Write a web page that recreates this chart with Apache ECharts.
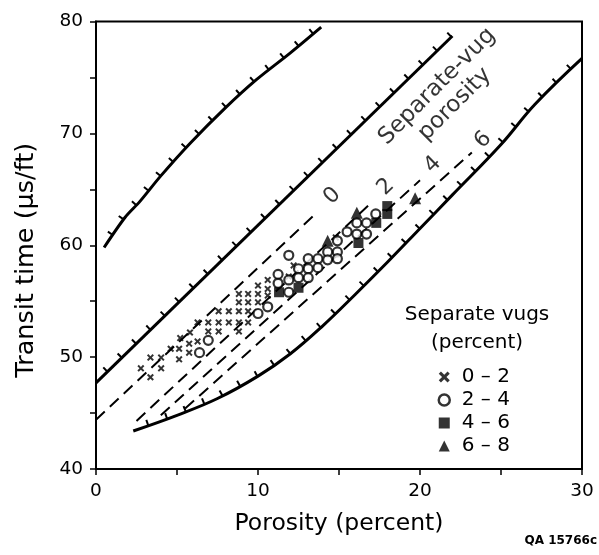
<!DOCTYPE html>
<html><head><meta charset="utf-8">
<script src="https://cdn.jsdelivr.net/npm/echarts@6/dist/echarts.min.js"></script>
<style>html,body{margin:0;padding:0;background:#fff}#c{width:599px;height:555px}</style>
</head><body><div id="c"></div>
<script>
// ---- data ----
const xTickLabels = [0, 10, 20, 30];
const yTickLabels = [40, 50, 60, 70, 80];
const upperBound = [[0.5,59.8],[1.8,62.5],[2.7,63.9],[4.0,66.2],[5.8,69.1],[8.0,72.3],[9.9,74.8],[12.0,77.2],[13.9,79.5]];
const middleBound = [[0,47.7],[22.0,78.7]];
const lowerBound = [[2.3,43.4],[5.0,44.8],[7.5,46.3],[10.0,48.3],[12.0,50.3],[14.0,52.8],[16.0,55.6],[18.0,58.5],[20.0,61.5],[22.0,64.5],[25.0,69.0],[27.1,72.6],[30.0,76.7]];
const vug0 = [[0,44.4],[13.4,62.6]];
const vug2 = [[2.5,44.3],[17.0,63.8]];
const vug4 = [[4.0,44.8],[20.0,65.8]];
const vug6 = [[5.5,45.4],[23.2,68.3]];
const vugLabels = [[14.6,64.4,'0'],[17.9,65.2,'2'],[20.8,67.2,'4'],[23.9,69.4,'6']];
const sepVugLabel = [[21.6,73.4,'Separate-vug\nporosity']];
const vugs0to2 = [[2.77,49.0],[3.36,49.96],[3.36,48.2],[4.02,49.96],[4.02,49.0],[4.61,50.75],[5.13,49.8],[5.13,50.75],[5.2,51.7],[5.8,52.2],[5.75,51.2],[5.75,50.4],[6.27,53.1],[6.27,51.4],[6.93,53.1],[6.93,52.3],[7.57,54.1],[7.57,53.1],[7.57,52.3],[8.2,54.1],[8.2,53.1],[8.82,55.65],[8.82,54.9],[8.82,54.1],[8.82,53.1],[8.82,52.3],[9.39,55.65],[9.39,54.9],[9.39,54.1],[9.39,53.1],[10.0,56.4],[10.0,55.65],[10.0,54.9],[10.6,56.9],[10.6,56.1],[10.6,55.5],[11.9,57.2],[12.2,58.2],[14.8,60.7]];
const vugs2to4 = [[6.39,50.4],[6.93,51.5],[10.0,53.9],[10.6,54.5],[11.24,57.4],[11.24,56.6],[11.9,59.1],[11.9,56.9],[11.9,55.8],[12.5,57.9],[12.5,57.1],[13.1,58.8],[13.1,57.9],[13.1,57.1],[13.7,58.8],[13.7,58.0],[14.3,59.4],[14.3,58.7],[14.9,60.4],[14.9,59.4],[14.9,58.8],[15.5,61.2],[16.1,62.0],[16.1,61.0],[16.7,62.0],[16.7,61.0],[17.27,62.8]];
const vugs4to6 = [[11.3,55.8],[12.5,56.2],[16.2,60.2],[17.3,62.0],[17.98,63.5],[17.98,62.8]];
const vugs6to8 = [[14.3,60.4],[16.1,62.9],[19.7,64.2]];
const legendNames = ['0 \u2013 2','2 \u2013 4','4 \u2013 6','6 \u2013 8'];

// ---- chart ----
const FONT = 'DejaVu Sans, Verdana, sans-serif';
const crossPath = 'path://M2,0 L5,3 L8,0 L10,2 L7,5 L10,8 L8,10 L5,7 L2,10 L0,8 L3,5 L0,2 Z';

function hatched(curve, spacing, len, smooth) {
  return function (params, api) {
    if (params.dataIndex !== 0) return null;
    const pts = curve.map(p => api.coord(p));
    const children = [{ type: 'polyline', shape: { points: pts, smooth: smooth }, style: { stroke: '#000', lineWidth: 3, fill: null } }];
    let next = spacing * 0.8;
    let acc = 0;
    for (let i = 0; i < pts.length - 1; i++) {
      const a = pts[i], b = pts[i + 1];
      const dx = b[0] - a[0], dy = b[1] - a[1];
      const L = Math.hypot(dx, dy);
      const ux = dx / L, uy = dy / L;
      while (next <= acc + L) {
        const t = next - acc;
        const px = a[0] + ux * t, py = a[1] + uy * t;
        children.push({ type: 'line', shape: { x1: px, y1: py, x2: px + uy * len, y2: py - ux * len }, style: { stroke: '#000', lineWidth: 2 } });
        next += spacing;
      }
      acc += L;
    }
    return { type: 'group', children: children };
  };
}

function dashed(data) {
  return { type: 'line', data: data, symbol: 'none', silent: true, lineStyle: { color: '#000', width: 2, type: [12, 7] }, z: 2 };
}

const option = {
  animation: false,
  backgroundColor: '#fff',
  grid: { left: 96, top: 21.5, width: 486, height: 447.5, show: true, borderColor: '#000', borderWidth: 2 },
  xAxis: {
    type: 'value', min: 0, max: 30, interval: 5,
    name: 'Porosity (percent)', nameLocation: 'middle', nameGap: 43,
    nameTextStyle: { fontFamily: FONT, fontSize: 23.5, color: '#000' },
    axisLine: { lineStyle: { color: '#000', width: 2 } },
    axisTick: { inside: false, length: 6, lineStyle: { color: '#000', width: 1.5 } },
    axisLabel: { margin: 13, fontFamily: FONT, fontSize: 18.5, color: '#000', formatter: v => xTickLabels.includes(v) ? String(v) : '' },
    splitLine: { show: false }
  },
  yAxis: {
    type: 'value', min: 40, max: 80, interval: 5,
    name: 'Transit time (\u00b5s/ft)', nameLocation: 'middle', nameGap: 57, nameRotate: 90,
    nameTextStyle: { fontFamily: FONT, fontSize: 25.5, color: '#000', padding: [0, 30, 0, 0] },
    axisLine: { lineStyle: { color: '#000', width: 2 } },
    axisTick: { inside: false, length: 6, lineStyle: { color: '#000', width: 1.5 } },
    axisLabel: { margin: 13, fontFamily: FONT, fontSize: 18.5, color: '#000', formatter: v => yTickLabels.includes(v) ? String(v) : '' },
    splitLine: { show: false }
  },
  legend: {
    orient: 'vertical', left: 432.5, top: 362, itemGap: 3, itemWidth: 11, itemHeight: 11,
    textStyle: { fontFamily: FONT, fontSize: 20, color: '#000', padding: [0, 0, 0, 7] },
    data: [
      { name: legendNames[0], icon: crossPath, itemStyle: { color: '#000' } },
      { name: legendNames[1], icon: 'circle', itemStyle: { color: '#fff', borderColor: '#000', borderWidth: 2.5 } },
      { name: legendNames[2], icon: 'rect', itemStyle: { color: '#000' } },
      { name: legendNames[3], icon: 'triangle', itemStyle: { color: '#000' } }
    ],
    selectedMode: false
  },
  graphic: [{
    type: 'text', x: 477, y: 301,
    style: { text: 'Separate vugs\n(percent)', fontFamily: FONT, fontSize: 20, fill: '#000', align: 'center', lineHeight: 28 }
  }, {
    type: 'text', right: 2, top: 535,
    style: { text: 'QA 15766c', fontFamily: FONT, fontSize: 12, fontWeight: 'bold', fill: '#000' }
  }],
  series: [
    { type: 'custom', data: [[0, 0]], renderItem: hatched(upperBound, 19, 6, 0.3), silent: true, z: 3 },
    { type: 'custom', data: [[0, 0]], renderItem: hatched(middleBound, 20, 6, 0), silent: true, z: 3 },
    { type: 'custom', data: [[0, 0]], renderItem: hatched(lowerBound, 20, 6, 0.4), silent: true, z: 3 },
    dashed(vug0), dashed(vug2), dashed(vug4), dashed(vug6),
    { type: 'scatter', data: vugLabels, symbolSize: 0, silent: true,
      label: { show: true, position: 'inside', rotate: 45, formatter: p => p.value[2], fontFamily: FONT, fontSize: 22, color: '#000' } },
    { type: 'scatter', data: sepVugLabel, symbolSize: 0, silent: true,
      label: { show: true, position: 'inside', rotate: 45, formatter: p => p.value[2], fontFamily: FONT, fontSize: 23, color: '#000', lineHeight: 25, align: 'center' } },
    { name: legendNames[0], type: 'scatter', data: vugs0to2, symbol: crossPath, symbolSize: 7, itemStyle: { color: '#000' }, z: 5 },
    { name: legendNames[1], type: 'scatter', data: vugs2to4, symbol: 'circle', symbolSize: 9, itemStyle: { color: '#fff', borderColor: '#000', borderWidth: 2.2 }, z: 5 },
    { name: legendNames[2], type: 'scatter', data: vugs4to6, symbol: 'rect', symbolSize: 10, itemStyle: { color: '#000' }, z: 6 },
    { name: legendNames[3], type: 'scatter', data: vugs6to8, symbol: 'triangle', symbolSize: 12, itemStyle: { color: '#000' }, z: 6 }
  ]
};
const chart = echarts.init(document.getElementById('c'), null, { renderer: 'canvas' });
chart.setOption(option);
</script></body></html>
